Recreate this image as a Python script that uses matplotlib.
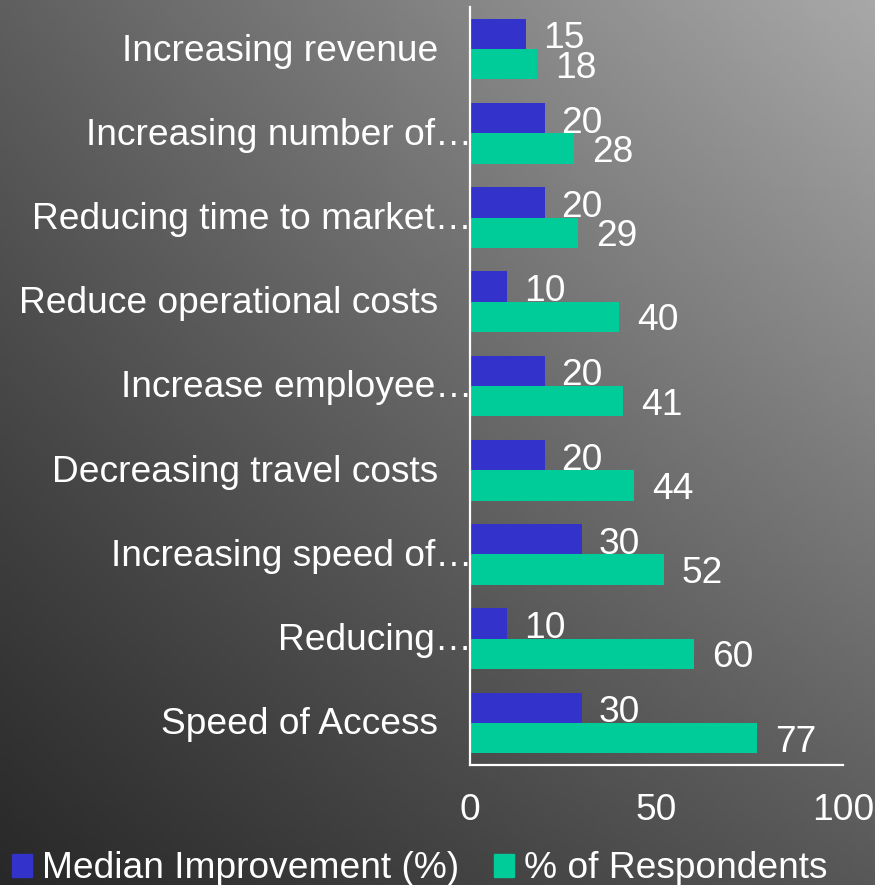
import numpy as np
import matplotlib.pyplot as plt
from matplotlib.patches import Patch

plt.rcParams['font.family'] = ['Liberation Sans', 'DejaVu Sans']

labels = ["Increasing revenue", "Increasing number of\u2026", "Reducing time to market\u2026",
          "Reduce operational costs", "Increase employee\u2026", "Decreasing travel costs",
          "Increasing speed of\u2026", "Reducing\u2026", "Speed of Access"]
median_improvement = [15, 20, 20, 10, 20, 20, 30, 10, 30]
pct_respondents = [18, 28, 29, 40, 41, 44, 52, 60, 77]
xticks = [0, 50, 100]

BLUE = '#3333CC'
GREEN = '#00CC99'
FS = 26.7

fig = plt.figure(figsize=(8.75, 8.85), dpi=100)

# grey gradient background (bilinear between corner greys)
bg = fig.add_axes([0, 0, 1, 1], zorder=-10)
tl, tr, bl, br = 95, 168, 40, 88
u, v = np.meshgrid(np.linspace(0, 1, 200), np.linspace(0, 1, 200))  # v: 0 top -> 1 bottom
grad = (tl * (1 - u) * (1 - v) + tr * u * (1 - v) + bl * (1 - u) * v + br * u * v) / 255
bg.imshow(np.dstack([grad] * 3), aspect='auto', extent=[0, 1, 0, 1], origin='upper')
bg.axis('off')

ax = fig.add_axes([470 / 875, 1 - 765 / 885, (843 - 470) / 875, (765 - 7) / 885])
ax.set_facecolor('none')

y = np.arange(len(labels))
h = 0.36
ax.barh(y - h / 2, median_improvement, height=h, color=BLUE)
ax.barh(y + h / 2, pct_respondents, height=h, color=GREEN)

for yi, val in zip(y, median_improvement):
    ax.annotate(str(val), (val, yi - h / 2), xytext=(17, -5), textcoords='offset pixels',
                ha='left', va='center', color='white', fontsize=FS)
for yi, val in zip(y, pct_respondents):
    ax.annotate(str(val), (val, yi + h / 2), xytext=(18, -4), textcoords='offset pixels',
                ha='left', va='center', color='white', fontsize=FS)

# category labels, truncated ones run up to the axis
for yi, lab in zip(y, labels):
    off = 2 if lab.endswith('\u2026') else -32
    ax.annotate(lab, (0, yi), xytext=(off, -2), textcoords='offset pixels',
                ha='right', va='center', color='white', fontsize=FS, annotation_clip=False)

ax.set_xlim(0, 100)
ax.set_ylim(len(labels) - 0.5, -0.5)
ax.set_xticks(xticks)
ax.set_yticks([])
ax.tick_params(axis='x', length=0, pad=20, labelcolor='white', labelsize=FS)
for s in ['top', 'right']:
    ax.spines[s].set_visible(False)
for s in ['left', 'bottom']:
    ax.spines[s].set_color('white')
    ax.spines[s].set_linewidth(1.6)

handles = [Patch(color=BLUE, label='Median Improvement (%)'),
           Patch(color=GREEN, label='% of Respondents')]
fig.legend(handles=handles, loc='lower left', bbox_to_anchor=(-0.016, -0.031), ncol=2,
           frameon=False, fontsize=FS, labelcolor='white', handlelength=0.55,
           handleheight=0.55, handletextpad=0.25, columnspacing=0.95, borderaxespad=0.3)

fig.savefig('out.png', dpi=100)
